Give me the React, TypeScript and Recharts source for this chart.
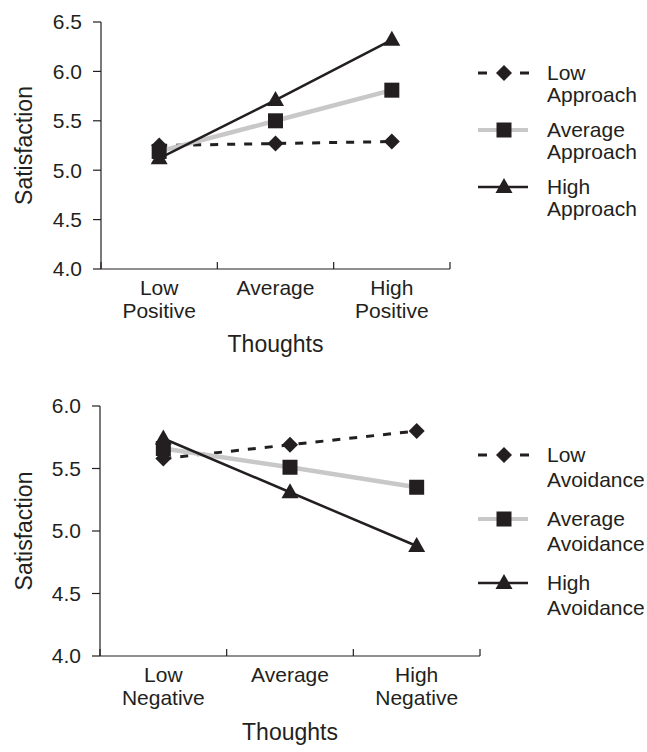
import React from 'react';
import { LineChart, Line, XAxis, YAxis, Legend } from 'recharts';

const INK = '#231f20';
const GREY = '#c8c8c8';
const FONT = '"Liberation Sans", Arial, sans-serif';

// top panel: approach
const approachCats = [['Low', 'Positive'], ['Average'], ['High', 'Positive']];
const lowApproach = [5.25, 5.27, 5.29];
const avgApproach = [5.19, 5.5, 5.81];
const highApproach = [5.12, 5.71, 6.32];
const approachNames = [['Low', 'Approach'], ['Average', 'Approach'], ['High', 'Approach']];
const approachYTicks = [4.0, 4.5, 5.0, 5.5, 6.0, 6.5];

// bottom panel: avoidance
const avoidCats = [['Low', 'Negative'], ['Average'], ['High', 'Negative']];
const lowAvoid = [5.58, 5.69, 5.8];
const avgAvoid = [5.66, 5.51, 5.35];
const highAvoid = [5.74, 5.31, 4.88];
const avoidNames = [['Low', 'Avoidance'], ['Average', 'Avoidance'], ['High', 'Avoidance']];
const avoidYTicks = [4.0, 4.5, 5.0, 5.5, 6.0];

const xTicks = [0, 0.5, 1, 1.5, 2, 2.5, 3];

function rows(low: number[], avg: number[], high: number[]) {
  return low.map((v, i) => ({ x: i + 0.5, low: v, avg: avg[i], high: high[i] }));
}

const Diamond = ({ cx, cy }: any) => (
  <polygon points={`${cx},${cy - 8} ${cx + 8},${cy} ${cx},${cy + 8} ${cx - 8},${cy}`} fill={INK} />
);
const Square = ({ cx, cy }: any) => <rect x={cx - 7.5} y={cy - 7.5} width={15} height={15} fill={INK} />;
const Triangle = ({ cx, cy }: any) => (
  <polygon points={`${cx},${cy - 9} ${cx + 8.5},${cy + 6} ${cx - 8.5},${cy + 6}`} fill={INK} />
);

const markers = [Diamond, Square, Triangle];

function XTick({ x, y, payload, cats }: any) {
  const v = payload.value;
  if (Number.isInteger(v)) {
    return <line x1={x} x2={x} y1={y} y2={y - 7} stroke={INK} strokeWidth={1.2} />;
  }
  const lines: string[] = cats[Math.floor(v)];
  return (
    <text x={x} y={y + 26} textAnchor="middle" fill={INK} fontSize={21} fontFamily={FONT}>
      {lines.map((l, i) => (
        <tspan key={i} x={x} dy={i === 0 ? 0 : 23}>
          {l}
        </tspan>
      ))}
    </text>
  );
}

function LegendBox({ names, gap, lh }: any) {
  return (
    <svg width={177} height={200} style={{ display: 'block' }}>
      {names.map((n: string[], i: number) => {
        const cy = 24 + i * gap;
        const M = markers[i];
        return (
          <g key={i}>
            {i === 0 && (
              <>
                <rect x={8} y={cy - 1.5} width={9} height={3} fill={INK} />
                <rect x={50} y={cy - 1.5} width={9} height={3} fill={INK} />
              </>
            )}
            {i === 1 && <line x1={8} x2={58} y1={cy} y2={cy} stroke={GREY} strokeWidth={4} />}
            {i === 2 && <line x1={8} x2={58} y1={cy} y2={cy} stroke={INK} strokeWidth={2.5} />}
            <M cx={34} cy={cy} />
            <text x={77} y={cy + 7} fill={INK} fontSize={21} fontFamily={FONT}>
              <tspan x={77}>{n[0]}</tspan>
              <tspan x={77} dy={lh}>
                {n[1]}
              </tspan>
            </text>
          </g>
        );
      })}
    </svg>
  );
}

function Panel({ data, cats, names, yTicks, yMax, height, marginTop, marginRight, yWidth, xHeight, titleDy, legendTop, gap, lh }: any) {
  return (
    <LineChart
      width={647}
      height={height}
      data={data}
      margin={{ top: marginTop, right: marginRight, bottom: 0, left: 0 }}
    >
      <XAxis
        dataKey="x"
        type="number"
        domain={[0, 3]}
        ticks={xTicks}
        interval={0}
        height={xHeight}
        tickLine={false}
        tickSize={0}
        tickMargin={0}
        axisLine={{ stroke: INK, strokeWidth: 1.2 }}
        tick={(p: any) => <XTick {...p} cats={cats} />}
        label={(p: any) => {
          const vb = p.viewBox;
          return (
            <text x={vb.x + vb.width / 2} y={vb.y + titleDy} textAnchor="middle" fill={INK} fontSize={23} fontFamily={FONT}>
              Thoughts
            </text>
          );
        }}
      />
      <YAxis
        type="number"
        domain={[4, yMax]}
        ticks={yTicks}
        interval={0}
        width={yWidth}
        tickSize={8}
        tickMargin={11}
        tickFormatter={(v: number) => v.toFixed(1)}
        tick={{ fill: INK, fontSize: 21, fontFamily: FONT }}
        tickLine={{ stroke: INK, strokeWidth: 1.2 }}
        axisLine={{ stroke: INK, strokeWidth: 1.2 }}
        label={(p: any) => {
          const vb = p.viewBox;
          const cy = vb.y + vb.height / 2;
          return (
            <text x={32} y={cy} transform={`rotate(-90, 32, ${cy})`} textAnchor="middle" fill={INK} fontSize={23} fontFamily={FONT}>
              Satisfaction
            </text>
          );
        }}
      />
      <Legend
        layout="horizontal"
        align="center"
        verticalAlign="middle"
        wrapperStyle={{ left: 470, top: legendTop, width: 177 }}
        content={() => <LegendBox names={names} gap={gap} lh={lh} />}
      />
      <Line
        dataKey="low"
        stroke={INK}
        strokeWidth={3}
        strokeDasharray="8 9"
        isAnimationActive={false}
        dot={(p: any) => <Diamond key={`d${p.index}`} cx={p.cx} cy={p.cy} />}
        activeDot={false}
      />
      <Line
        dataKey="avg"
        stroke={GREY}
        strokeWidth={4.5}
        isAnimationActive={false}
        dot={(p: any) => <Square key={`s${p.index}`} cx={p.cx} cy={p.cy} />}
        activeDot={false}
      />
      <Line
        dataKey="high"
        stroke={INK}
        strokeWidth={2.5}
        isAnimationActive={false}
        dot={(p: any) => <Triangle key={`t${p.index}`} cx={p.cx} cy={p.cy} />}
        activeDot={false}
      />
    </LineChart>
  );
}

export default function App() {
  return (
    <div style={{ position: 'absolute', left: 0, top: 0, width: 647, height: 752, background: '#fff', fontFamily: FONT }}>
      <div style={{ position: 'absolute', left: 0, top: 0 }}>
        <Panel
          data={rows(lowApproach, avgApproach, highApproach)}
          cats={approachCats}
          names={approachNames}
          yTicks={approachYTicks}
          yMax={6.5}
          height={375}
          marginTop={22}
          marginRight={197}
          yWidth={101}
          xHeight={106}
          titleDy={83}
          legendTop={49}
          gap={57}
          lh={22}
        />
      </div>
      <div style={{ position: 'absolute', left: 0, top: 380 }}>
        <Panel
          data={rows(lowAvoid, avgAvoid, highAvoid)}
          cats={avoidCats}
          names={avoidNames}
          yTicks={avoidYTicks}
          yMax={6}
          height={372}
          marginTop={26}
          marginRight={167}
          yWidth={100}
          xHeight={96}
          titleDy={84}
          legendTop={51}
          gap={64}
          lh={25}
        />
      </div>
    </div>
  );
}
